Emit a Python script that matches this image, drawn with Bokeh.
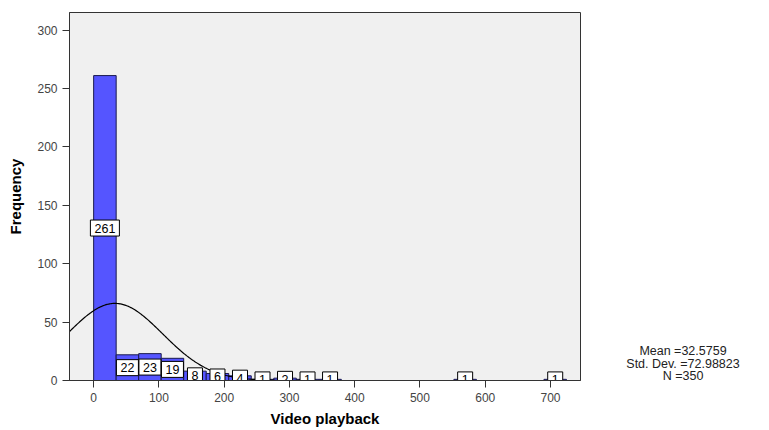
import numpy as np
from bokeh.plotting import figure
from bokeh.models import ColumnDataSource, Range1d, FixedTicker, Div
from bokeh.layouts import row
from bokeh.core.properties import value
from bokeh.embed import file_html
from bokeh.resources import INLINE

# ---- data ----
bin_width = 34.5
bin_index = [0, 1, 2, 3, 4, 5, 6, 7, 8, 9, 10, 16, 20]
counts = [261, 22, 23, 19, 8, 6, 4, 1, 2, 1, 1, 1, 1]
stat_mean = 32.5759
stat_sd = 72.98823
stat_n = 350
x_ticks = [0, 100, 200, 300, 400, 500, 600, 700]
y_ticks = [0, 50, 100, 150, 200, 250, 300]
stats_lines = ["Mean =32.5759", "Std. Dev. =72.98823", "N =350"]

FONT = "Liberation Sans"
left = [i * bin_width for i in bin_index]
right = [(i + 1) * bin_width for i in bin_index]
center = [(i + 0.5) * bin_width for i in bin_index]
labs = [str(c) for c in counts]
src = ColumnDataSource(dict(left=left, right=right, top=counts,
                            xc=center, ym=[c / 2 for c in counts],
                            lab=labs, bw=[8 + 7 * len(s) for s in labs]))

p = figure(width=600, height=430, output_backend="svg", toolbar_location=None,
           x_range=Range1d(-37, 746), y_range=Range1d(0, 315),
           min_border_left=69, min_border_right=20, min_border_top=12,
           min_border_bottom=50)
p.background_fill_color = "#f0f0f0"
p.border_fill_color = "white"
p.outline_line_color = "#333333"
p.grid.visible = False

p.quad(left="left", right="right", bottom=0, top="top", source=src,
       fill_color="#5555ff", line_color="#1a1a4d", line_width=1)

# fitted normal curve from the stated statistics
xs = np.linspace(-37, 746, 600)
ys = stat_n * bin_width / (stat_sd * np.sqrt(2 * np.pi)) * np.exp(-0.5 * ((xs - stat_mean) / stat_sd) ** 2)
p.line(xs, ys, line_color="black", line_width=1.2)

# count labels: white boxes with the count
p.rect(x="xc", y="ym", width="bw", height=16, width_units="screen", height_units="screen",
       source=src, fill_color="white", line_color="black", line_width=1)
p.text(x="xc", y="ym", text="lab", source=src, text_align="center", text_baseline="middle",
       text_font=value(FONT), text_font_size="12.5px", text_color="black")

for ax in (p.xaxis[0], p.yaxis[0]):
    ax.axis_line_color = "#333333"
    ax.major_tick_line_color = "#333333"
    ax.major_tick_out = 7
    ax.major_tick_in = 0
    ax.minor_tick_line_color = None
    ax.major_label_text_font = FONT
    ax.major_label_text_font_size = "12px"
    ax.major_label_text_color = "#444444"
    ax.axis_label_text_font = FONT
    ax.axis_label_text_font_style = "bold"
    ax.axis_label_text_font_size = "15px"
    ax.axis_label_text_color = "black"

p.xaxis.ticker = FixedTicker(ticks=x_ticks)
p.yaxis.ticker = FixedTicker(ticks=y_ticks)
p.xaxis.axis_label = "Video playback"
p.yaxis.axis_label = "Frequency"
p.xaxis.major_label_standoff = 5
p.xaxis.axis_label_standoff = 5
p.yaxis.major_label_standoff = 5
p.yaxis.axis_label_standoff = 10

stats_html = "<br>".join(stats_lines)
div = Div(width=166, height=430,
          text=f'<div style="position:absolute; top:340px; left:-5px; width:166px; text-align:center; '
               f'font-family:{FONT}; font-size:12.5px; line-height:12.5px; color:#222222;">{stats_html}</div>')

layout = row(p, div)
open("out.html", "w").write(file_html(layout, INLINE))
